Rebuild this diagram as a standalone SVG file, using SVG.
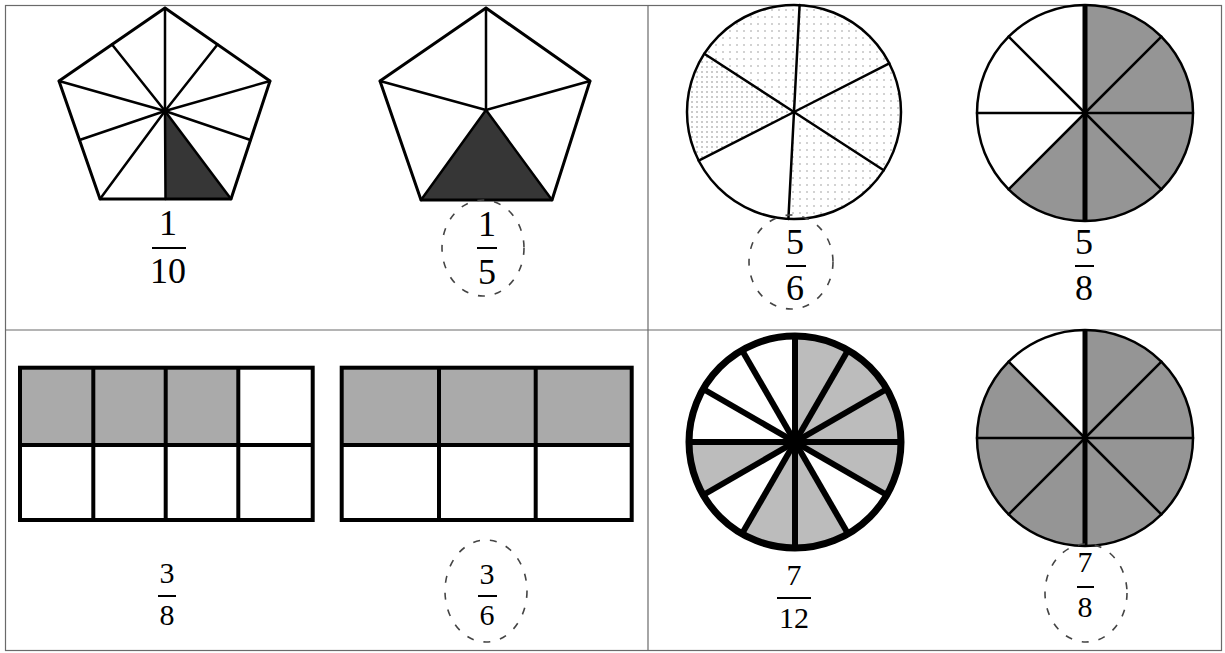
<svg xmlns="http://www.w3.org/2000/svg" width="1225" height="653" viewBox="0 0 1225 653">
<defs>
<pattern id="dots" width="7" height="7" patternUnits="userSpaceOnUse">
<rect width="7" height="7" fill="#ffffff"/>
<circle cx="2" cy="3" r="0.8" fill="#9a9a9a"/>
</pattern>
<pattern id="dotsDense" width="5" height="5" patternUnits="userSpaceOnUse">
<rect width="5" height="5" fill="#ffffff"/>
<circle cx="2" cy="2" r="0.8" fill="#8a8a8a"/>
</pattern>
</defs>
<style>
.grid{fill:none;stroke:#6a6a6a;stroke-width:1.2}
.edge{fill:none;stroke:#000;stroke-width:3;stroke-linejoin:round;stroke-linecap:round}
.thin{stroke:#000;stroke-width:2.5;stroke-linecap:round}
.thick{stroke:#000;stroke-width:5}
.heavy{stroke:#000;stroke-width:6}
.box{fill:none;stroke:#000;stroke-width:4}
.dark{fill:#363636}
.mid{fill:#959595}
.light{fill:#aaaaaa}
.pale{fill:#bcbcbc}
.t{font-family:"Liberation Serif",serif;font-size:36px;text-anchor:middle;fill:#000}
.s{font-family:"Liberation Serif",serif;font-size:30px;text-anchor:middle;fill:#000}
.bar{stroke:#000;stroke-width:2}
.oval{fill:none;stroke:#444;stroke-width:1.6;stroke-dasharray:7 10}
</style>
<rect x="0" y="0" width="1225" height="653" fill="#ffffff"/>

<g id="table" class="grid">
<rect x="5.5" y="5.5" width="1216" height="645"/>
<line x1="5.5" y1="330" x2="1221.5" y2="330"/>
<line x1="648" y1="5.5" x2="648" y2="650.5"/>
</g>

<g id="pentagon-tenths">
<polygon class="dark" points="165,111 165.5,199 231,199"/>
<polygon class="edge" points="165,8 270,81 231,199 100,199 59,81"/>
<g class="thin">
<line x1="165" y1="111" x2="165" y2="8"/>
<line x1="165" y1="111" x2="270" y2="81"/>
<line x1="165" y1="111" x2="231" y2="199"/>
<line x1="165" y1="111" x2="100" y2="199"/>
<line x1="165" y1="111" x2="59" y2="81"/>
<line x1="165" y1="111" x2="217.5" y2="44.5"/>
<line x1="165" y1="111" x2="250.5" y2="140"/>
<line x1="165" y1="111" x2="165.5" y2="199"/>
<line x1="165" y1="111" x2="79.5" y2="140"/>
<line x1="165" y1="111" x2="112" y2="44.5"/>
</g>
<text class="t" x="168" y="235">1</text>
<line class="bar" x1="152" y1="248" x2="186" y2="248"/>
<text class="t" x="168" y="283">10</text>
</g>

<g id="pentagon-fifths">
<polygon class="dark" points="486,110 421,200 552,200"/>
<polygon class="edge" points="486,8 590,81 552,200 421,200 380,81"/>
<g class="thin">
<line x1="486" y1="110" x2="486" y2="8"/>
<line x1="486" y1="110" x2="590" y2="81"/>
<line x1="486" y1="110" x2="552" y2="200"/>
<line x1="486" y1="110" x2="421" y2="200"/>
<line x1="486" y1="110" x2="380" y2="81"/>
</g>
<text class="t" x="487" y="236">1</text>
<line class="bar" x1="477" y1="248" x2="497" y2="248"/>
<text class="t" x="487" y="284">5</text>
<ellipse class="oval" cx="483" cy="248" rx="41" ry="48"/>
</g>

<g id="circle-sixths">
<path d="M794,112 L698.7,160.6 A107,107 0 1 1 788.4,218.9 Z" fill="url(#dots)"/>
<path d="M794,112 L698.7,160.6 A107,107 0 0 1 704.3,53.7 Z" fill="url(#dotsDense)"/>
<circle cx="794" cy="112" r="107" fill="none" stroke="#000" stroke-width="2.5"/>
<g class="thin">
<line x1="794" y1="112" x2="799.6" y2="5.1"/>
<line x1="794" y1="112" x2="889.3" y2="63.4"/>
<line x1="794" y1="112" x2="883.7" y2="170.3"/>
<line x1="794" y1="112" x2="788.4" y2="218.9"/>
<line x1="794" y1="112" x2="698.7" y2="160.6"/>
<line x1="794" y1="112" x2="704.3" y2="53.7"/>
</g>
<text class="t" x="795" y="254">5</text>
<line class="bar" x1="786" y1="266" x2="806" y2="266"/>
<text class="t" x="795" y="300">6</text>
<ellipse class="oval" cx="791" cy="262" rx="42" ry="47"/>
</g>

<g id="circle-eighths-top">
<path class="mid" d="M1085,113 L1085,5 A108,108 0 1 1 1008.6,189.4 Z"/>
<circle cx="1085" cy="113" r="108" fill="none" stroke="#000" stroke-width="2.5"/>
<g class="thin">
<line x1="1085" y1="113" x2="1161.4" y2="36.6"/>
<line x1="1085" y1="113" x2="1193" y2="113"/>
<line x1="1085" y1="113" x2="1161.4" y2="189.4"/>
<line x1="1085" y1="113" x2="1008.6" y2="189.4"/>
<line x1="1085" y1="113" x2="977" y2="113"/>
<line x1="1085" y1="113" x2="1008.6" y2="36.6"/>
</g>
<line class="thick" x1="1085" y1="5" x2="1085" y2="221"/>
<text class="t" x="1084" y="254">5</text>
<line class="bar" x1="1075" y1="266" x2="1094" y2="266"/>
<text class="t" x="1084" y="300">8</text>
</g>

<g id="rect-eighths">
<rect class="light" x="20" y="367.7" width="218.3" height="77.3"/>
<rect class="box" x="20" y="367.7" width="292.7" height="152.3"/>
<line class="box" x1="20" y1="445" x2="312.7" y2="445"/>
<line class="box" x1="93.3" y1="367.7" x2="93.3" y2="520"/>
<line class="box" x1="165.7" y1="367.7" x2="165.7" y2="520"/>
<line class="box" x1="238.3" y1="367.7" x2="238.3" y2="520"/>
<text class="s" x="167" y="583">3</text>
<line class="bar" x1="158" y1="596" x2="176" y2="596"/>
<text class="s" x="167" y="625">8</text>
</g>

<g id="rect-sixths">
<rect class="light" x="341.7" y="367.7" width="290" height="77.3"/>
<rect class="box" x="341.7" y="367.7" width="290" height="152.3"/>
<line class="box" x1="341.7" y1="445" x2="631.7" y2="445"/>
<line class="box" x1="439" y1="367.7" x2="439" y2="520"/>
<line class="box" x1="535.7" y1="367.7" x2="535.7" y2="520"/>
<text class="s" x="487" y="584">3</text>
<line class="bar" x1="478" y1="596" x2="497" y2="596"/>
<text class="s" x="487" y="625">6</text>
<ellipse class="oval" cx="486" cy="591" rx="41" ry="51"/>
</g>

<g id="circle-twelfths">
<path class="pale" d="M795,442 L795,336 A106,106 0 0 1 886.8,495 Z"/>
<path class="pale" d="M795,442 L848,533.8 A106,106 0 0 1 742,533.8 Z"/>
<path class="pale" d="M795,442 L703.2,495 A106,106 0 0 1 689,442 Z"/>
<circle cx="795" cy="442" r="106" fill="none" stroke="#000" stroke-width="7"/>
<g class="heavy">
<line x1="795" y1="336" x2="795" y2="548"/>
<line x1="848" y1="350.2" x2="742" y2="533.8"/>
<line x1="886.8" y1="389" x2="703.2" y2="495"/>
<line x1="901" y1="442" x2="689" y2="442"/>
<line x1="886.8" y1="495" x2="703.2" y2="389"/>
<line x1="848" y1="533.8" x2="742" y2="350.2"/>
</g>
<circle cx="795" cy="442" r="7" fill="#000"/>
<text class="s" x="794" y="585">7</text>
<line class="bar" x1="777" y1="598" x2="811" y2="598"/>
<text class="s" x="794" y="628">12</text>
</g>

<g id="circle-eighths-bottom">
<path class="mid" d="M1085,438 L1085,330 A108,108 0 1 1 1008.6,361.6 Z"/>
<circle cx="1085" cy="438" r="108" fill="none" stroke="#000" stroke-width="2.5"/>
<g class="thin">
<line x1="1085" y1="438" x2="1161.4" y2="361.6"/>
<line x1="1085" y1="438" x2="1193" y2="438"/>
<line x1="1085" y1="438" x2="1161.4" y2="514.4"/>
<line x1="1085" y1="438" x2="1008.6" y2="514.4"/>
<line x1="1085" y1="438" x2="977" y2="438"/>
<line x1="1085" y1="438" x2="1008.6" y2="361.6"/>
</g>
<line class="thick" x1="1085" y1="330" x2="1085" y2="546"/>
<text class="s" x="1085" y="572">7</text>
<line class="bar" x1="1077" y1="587" x2="1094" y2="587"/>
<text class="s" x="1085" y="617">8</text>
<ellipse class="oval" cx="1086" cy="593" rx="41" ry="49"/>
</g>
</svg>
